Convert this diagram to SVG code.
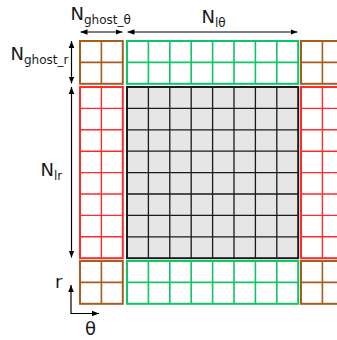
<svg xmlns="http://www.w3.org/2000/svg" width="337" height="340" viewBox="0 0 337 340">
<style>
.brown{fill:none;stroke:#a65e1e;stroke-width:2}
.brownin{fill:none;stroke:#a65e1e;stroke-width:1.6}
.green{fill:none;stroke:#10c468;stroke-width:2}
.greenin{fill:none;stroke:#10c468;stroke-width:1.6}
.red{fill:none;stroke:#ff2a2a;stroke-width:2}
.redin{fill:none;stroke:#ff2a2a;stroke-width:1.4}
.core{fill:#e6e6e6;stroke:#1a1a1a;stroke-width:2}
.corein{fill:none;stroke:#1a1a1a;stroke-width:1.3}
.arr{fill:none;stroke:#000;stroke-width:1.2}
text{font-family:"DejaVu Sans",Verdana,sans-serif;fill:#1a1a1a}
.big{font-size:18px}
.sub{font-size:12px}
</style>
<defs>
<marker id="ah" viewBox="0 0 10 10" refX="10" refY="5" markerWidth="7" markerHeight="7" orient="auto-start-reverse" markerUnits="userSpaceOnUse">
<path d="M0,1 L10,5 L0,9 z" fill="#000"/>
</marker>
</defs>
<g id="ghost-tl">
<rect class="brown" x="80" y="41" width="42.8" height="42.8"/>
<path class="brownin" d="M101.4,41V83.8M80,62.4H122.8"/>
</g>
<g id="ghost-top">
<rect class="green" x="127" y="41" width="171.2" height="42.8"/>
<path class="greenin" d="M148.4,41V83.8M169.8,41V83.8M191.2,41V83.8M212.6,41V83.8M234,41V83.8M255.4,41V83.8M276.8,41V83.8M127,62.4H298.2"/>
</g>
<g id="ghost-tr">
<rect class="brown" x="301" y="41" width="42.8" height="42.8"/>
<path class="brownin" d="M322.4,41V83.8M301,62.4H343.8"/>
</g>
<g id="ghost-left">
<rect class="red" x="80" y="87" width="42.8" height="171.2"/>
<path class="redin" d="M101.4,87V258.2M80,108.4H122.8M80,129.8H122.8M80,151.2H122.8M80,172.6H122.8M80,194H122.8M80,215.4H122.8M80,236.8H122.8"/>
</g>
<g id="core">
<rect class="core" x="127" y="87" width="171.2" height="171.2"/>
<path class="corein" d="M148.4,87V258.2M169.8,87V258.2M191.2,87V258.2M212.6,87V258.2M234,87V258.2M255.4,87V258.2M276.8,87V258.2M127,108.4H298.2M127,129.8H298.2M127,151.2H298.2M127,172.6H298.2M127,194H298.2M127,215.4H298.2M127,236.8H298.2"/>
</g>
<g id="ghost-right">
<rect class="red" x="301" y="87" width="42.8" height="171.2"/>
<path class="redin" d="M322.4,87V258.2M301,108.4H343.8M301,129.8H343.8M301,151.2H343.8M301,172.6H343.8M301,194H343.8M301,215.4H343.8M301,236.8H343.8"/>
</g>
<g id="ghost-bl">
<rect class="brown" x="80" y="261" width="42.8" height="42.8"/>
<path class="brownin" d="M101.4,261V303.8M80,282.4H122.8"/>
</g>
<g id="ghost-bottom">
<rect class="green" x="127" y="261" width="171.2" height="42.8"/>
<path class="greenin" d="M148.4,261V303.8M169.8,261V303.8M191.2,261V303.8M212.6,261V303.8M234,261V303.8M255.4,261V303.8M276.8,261V303.8M127,282.4H298.2"/>
</g>
<g id="ghost-br">
<rect class="brown" x="301" y="261" width="42.8" height="42.8"/>
<path class="brownin" d="M322.4,261V303.8M301,282.4H343.8"/>
</g>
<g id="connectors">
<line class="arr" x1="80.5" y1="32" x2="122.5" y2="32" marker-start="url(#ah)" marker-end="url(#ah)"/>
<line class="arr" x1="127.5" y1="32" x2="297.5" y2="32" marker-start="url(#ah)" marker-end="url(#ah)"/>
<line class="arr" x1="71.5" y1="41" x2="71.5" y2="83.5" marker-start="url(#ah)" marker-end="url(#ah)"/>
<line class="arr" x1="71.5" y1="87" x2="71.5" y2="257.5" marker-start="url(#ah)" marker-end="url(#ah)"/>
<polyline class="arr" points="71,285 71,313.5 99,313.5" marker-start="url(#ah)" marker-end="url(#ah)"/>
</g>
<g id="labels">
<text x="70.5" y="20"><tspan class="big">N</tspan><tspan class="sub" dy="4">ghost_θ</tspan></text>
<text x="201.5" y="23"><tspan class="big">N</tspan><tspan class="sub" dy="4">lθ</tspan></text>
<text x="10.5" y="60"><tspan class="big">N</tspan><tspan class="sub" dy="4">ghost_r</tspan></text>
<text x="40.5" y="176"><tspan class="big">N</tspan><tspan class="sub" dy="4">lr</tspan></text>
<text class="big" x="55" y="288">r</text>
<text class="big" x="85" y="335">θ</text>
</g>
</svg>
